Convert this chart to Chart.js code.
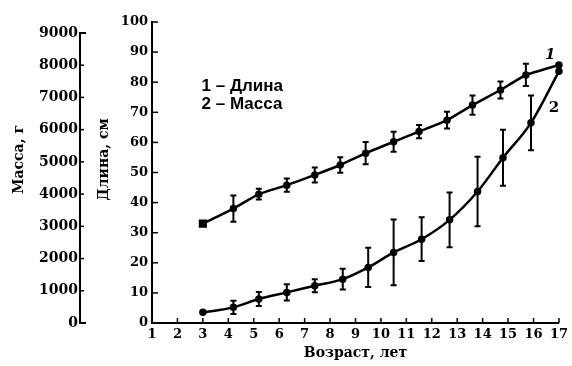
<!DOCTYPE html>
<html>
<head>
<meta charset="utf-8">
<script src="https://cdn.jsdelivr.net/npm/chart.js@4.4.0/dist/chart.umd.min.js"></script>
<style>
  html, body { margin: 0; padding: 0; background: #fff; }
  #wrap { width: 572px; height: 366px; }
</style>
</head>
<body>
<div id="wrap"><canvas id="growthChart"></canvas></div>
<script>
// 1 - длина (см)
const ageLength = [3, 4.2, 5.2, 6.3, 7.4, 8.4, 9.4, 10.5, 11.5, 12.6, 13.6, 14.7, 15.7, 17];
const lengthCm = [33, 38, 42.8, 45.8, 49.2, 52.5, 56.4, 60.2, 63.6, 67.4, 72.4, 77.4, 82.4, 85.7];
const lengthErr = [0, 4.4, 1.8, 2.2, 2.5, 2.6, 3.7, 3.3, 2.2, 2.8, 3.2, 2.8, 3.7, 0];

// 2 - масса (г)
const ageMass = [3, 4.2, 5.2, 6.3, 7.4, 8.5, 9.5, 10.5, 11.6, 12.7, 13.8, 14.8, 15.9, 17];
const massG = [330, 485, 745, 950, 1155, 1360, 1725, 2190, 2600, 3200, 4080, 5130, 6210, 7810];
const massErr = [0, 205, 215, 255, 200, 320, 610, 1020, 680, 850, 1080, 870, 850, 0];

const massTicks = [0, 1000, 2000, 3000, 4000, 5000, 6000, 7000, 8000, 9000];
const legendLines = ["1 – Длина", "2 – Масса"];
const yTitles = ["Масса, г", "Длина, см"];

const serif = "'DejaVu Serif', serif";
const black = "#000";

const toPoints = (xs, ys) => xs.map((x, i) => ({ x: x, y: ys[i] }));

// усы ошибок, внутренние риски осей и подписи
const extras = {
  id: "extras",
  afterDatasetsDraw(chart) {
    const ctx = chart.ctx;
    const errs = [lengthErr, massErr];
    ctx.save();
    ctx.strokeStyle = black;
    ctx.lineWidth = 2;
    chart.data.datasets.forEach((ds, di) => {
      const ys = chart.scales[ds.yAxisID];
      const xs = chart.scales.x;
      ds.data.forEach((p, i) => {
        const e = errs[di][i];
        if (!e) return;
        const px = xs.getPixelForValue(p.x);
        const top = ys.getPixelForValue(p.y + e);
        const bot = ys.getPixelForValue(p.y - e);
        ctx.beginPath();
        ctx.moveTo(px, top); ctx.lineTo(px, bot);
        ctx.moveTo(px - 3, top); ctx.lineTo(px + 3, top);
        ctx.moveTo(px - 3, bot); ctx.lineTo(px + 3, bot);
        ctx.stroke();
      });
    });
    ctx.restore();
  },
  afterDraw(chart) {
    const ctx = chart.ctx;
    const { x, y, ym } = chart.scales;
    ctx.save();
    ctx.strokeStyle = black;
    ctx.lineWidth = 2;

    // ось массы: от 0 до 9000, с ножкой внизу
    const mx = ym.right;
    ctx.beginPath();
    ctx.moveTo(mx + 6, ym.getPixelForValue(0));
    ctx.lineTo(mx, ym.getPixelForValue(0));
    ctx.lineTo(mx, ym.getPixelForValue(9000));
    ctx.lineTo(mx + 6, ym.getPixelForValue(9000));
    ctx.stroke();
    ctx.lineWidth = 1.5;
    ym.ticks.forEach(t => {
      const py = ym.getPixelForValue(t.value);
      ctx.beginPath(); ctx.moveTo(mx, py); ctx.lineTo(mx + 4, py); ctx.stroke();
    });
    y.ticks.forEach(t => {
      const py = y.getPixelForValue(t.value);
      ctx.beginPath(); ctx.moveTo(y.right, py); ctx.lineTo(y.right + 6, py); ctx.stroke();
    });
    x.ticks.forEach(t => {
      const px = x.getPixelForValue(t.value);
      ctx.beginPath(); ctx.moveTo(px, x.top); ctx.lineTo(px, x.top - 5); ctx.stroke();
    });

    ctx.fillStyle = black;
    ctx.textBaseline = "middle";
    ctx.textAlign = "center";
    ctx.font = "bold 14px " + serif;
    [[ym, yTitles[0], 19], [y, yTitles[1], 104]].forEach(([s, text, cx]) => {
      ctx.save();
      ctx.translate(cx, (s.top + s.bottom) / 2 - 13);
      ctx.rotate(-Math.PI / 2);
      ctx.fillText(text, 0, 0);
      ctx.restore();
    });

    ctx.textAlign = "left";
    ctx.font = "bold 17px 'Liberation Sans', sans-serif";
    ctx.fillText(legendLines[0], x.getPixelForValue(2.95), y.getPixelForValue(78.5));
    ctx.fillText(legendLines[1], x.getPixelForValue(2.95), y.getPixelForValue(72.5));

    ctx.font = "italic bold 15px " + serif;
    ctx.fillText("1", x.getPixelForValue(16.45), y.getPixelForValue(89));
    ctx.font = "bold 15px " + serif;
    ctx.fillText("2", x.getPixelForValue(16.6), y.getPixelForValue(71.5));
    ctx.restore();
  }
};

new Chart(document.getElementById("growthChart"), {
  type: "line",
  data: {
    datasets: [
      {
        label: "Длина",
        data: toPoints(ageLength, lengthCm),
        yAxisID: "y",
        borderColor: black,
        backgroundColor: black,
        borderWidth: 2.5,
        tension: 0.15,
        pointStyle: ageLength.map((a, i) => (i === 0 ? "rect" : "circle")),
        pointRadius: ageLength.map((a, i) => (i === 0 ? 4 : 2.5)),
        clip: false,
      },
      {
        label: "Масса",
        data: toPoints(ageMass, massG),
        yAxisID: "ym",
        borderColor: black,
        backgroundColor: black,
        borderWidth: 2.5,
        cubicInterpolationMode: "monotone",
        pointRadius: 2.5,
        clip: false,
      },
    ],
  },
  options: {
    responsive: true,
    maintainAspectRatio: false,
    animation: false,
    layout: { padding: { left: 0, right: 9, top: 22, bottom: 0 } },
    plugins: { legend: { display: false }, tooltip: { enabled: false } },
    scales: {
      x: {
        type: "linear",
        min: 1,
        max: 17,
        ticks: { stepSize: 1, padding: 4, color: black, font: { family: serif, size: 13, weight: "bold" } },
        grid: { display: false, drawTicks: false },
        border: { display: true, color: black, width: 2 },
        title: { display: true, text: "Возраст, лет", color: black, padding: { top: 0, bottom: 4 }, font: { family: serif, size: 14, weight: "bold" } },
        afterFit(s) { s.height = 43; },
      },
      y: {
        position: "left",
        weight: 0,
        min: 0,
        max: 100,
        ticks: { stepSize: 10, padding: 4, color: black, font: { family: serif, size: 13, weight: "bold" } },
        grid: { display: false, drawTicks: false },
        border: { display: true, color: black, width: 2 },
        afterFit(s) { s.width = 72; },
      },
      ym: {
        position: "left",
        weight: 1,
        min: 0,
        max: 9340,
        afterBuildTicks(s) { s.ticks = massTicks.map(v => ({ value: v })); },
        ticks: { padding: 2, color: black, font: { family: serif, size: 14, weight: "bold" }, callback: v => String(v) },
        grid: { display: false, drawTicks: false },
        border: { display: false },
        afterFit(s) { s.width = 80; },
      },
    },
  },
  plugins: [extras],
});
</script>
</body>
</html>
